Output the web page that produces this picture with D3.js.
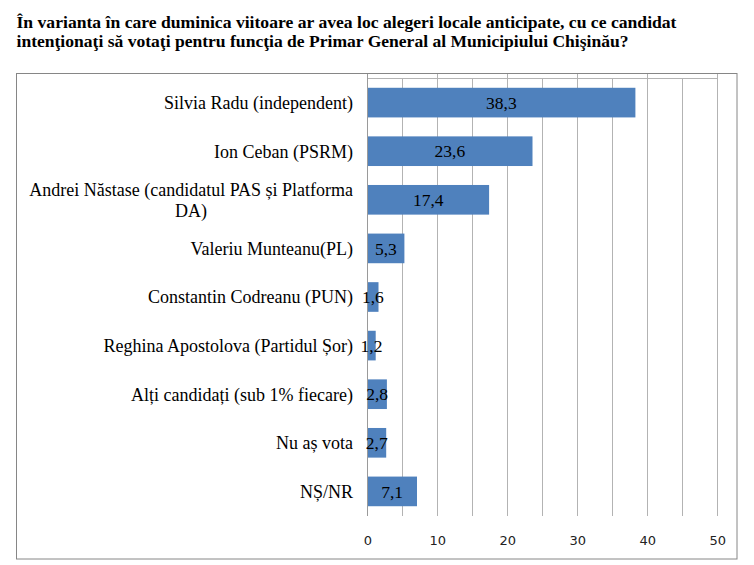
<!DOCTYPE html>
<html>
<head>
<meta charset="utf-8">
<script src="https://cdn.jsdelivr.net/npm/d3@7"></script>
<style>
  html, body { margin: 0; padding: 0; background: #fff; }
  svg { display: block; }
</style>
</head>
<body>
<svg id="chart" width="754" height="565"></svg>
<script>
// ---- data ----
const titleLines = [
  "În varianta în care duminica viitoare ar avea loc alegeri locale anticipate, cu ce candidat",
  "intenţionaţi să votaţi pentru funcţia de Primar General al Municipiului Chişinău?"
];
const categories = [
  "Silvia Radu (independent)",
  "Ion Ceban (PSRM)",
  "Andrei Năstase (candidatul PAS și Platforma DA)",
  "Valeriu Munteanu(PL)",
  "Constantin Codreanu (PUN)",
  "Reghina Apostolova (Partidul Șor)",
  "Alți candidați (sub 1% fiecare)",
  "Nu aș vota",
  "NȘ/NR"
];
const values = [38.3, 23.6, 17.4, 5.3, 1.6, 1.2, 2.8, 2.7, 7.1];
const xTicks = [0, 10, 20, 30, 40, 50];
const xGrid = [0, 5, 10, 15, 20, 25, 30, 35, 40, 45, 50];

// ---- layout ----
const svg = d3.select("#chart");
const plot = { left: 367.3, right: 717.3, top: 78.3, bottom: 515.7 };
const frame = { left: 16.5, top: 73.5, right: 737, bottom: 559 };
const barColor = "#4F81BD";
const SERIF = '"Liberation Serif"';
const SANS = '"DejaVu Sans"';

const locale = d3.formatLocale({ decimal: ",", thousands: ".", grouping: [3], currency: ["", ""] });
const fmt = locale.format(".1f");

const x = d3.scaleLinear().domain([0, 50]).range([plot.left, plot.right]);
const y = d3.scaleBand().domain(categories).range([plot.top, plot.bottom])
  .paddingInner(0.39).paddingOuter(0.195);

// title
const title = svg.append("g");
const titleWidths = [660, 612];
const titleBase = [28, 47];
titleLines.forEach((t, i) => {
  title.append("text")
    .attr("x", 16.5).attr("y", titleBase[i])
    .style("font-family", SERIF)
    .style("font-weight", "bold").style("font-size", "17px")
    .attr("textLength", titleWidths[i]).attr("lengthAdjust", "spacingAndGlyphs")
    .attr("fill", "#000")
    .text(t);
});

// outer frame
svg.append("rect")
  .attr("x", frame.left).attr("y", frame.top)
  .attr("width", frame.right - frame.left).attr("height", frame.bottom - frame.top)
  .attr("fill", "none").attr("stroke", "#868686").attr("stroke-width", 1);

// gridlines
const grid = svg.append("g")
  .attr("transform", `translate(0,${plot.bottom})`)
  .call(d3.axisTop(x).tickValues(xGrid).tickSize(plot.bottom - plot.top).tickFormat(""));
grid.select(".domain").remove();
grid.selectAll(".tick line").attr("stroke", "#b3b3b3").attr("shape-rendering", "crispEdges");

// major gridlines extend to frame top
const major = svg.append("g")
  .attr("transform", `translate(0,${plot.top})`)
  .call(d3.axisTop(x).tickValues(xTicks).tickSize(plot.top - frame.top).tickFormat(""));
major.select(".domain").remove();
major.selectAll(".tick line").attr("stroke", "#b3b3b3").attr("shape-rendering", "crispEdges");

// plot top line
svg.append("line")
  .attr("x1", x(0)).attr("x2", x(50)).attr("y1", plot.top).attr("y2", plot.top)
  .attr("stroke", "#b3b3b3").attr("shape-rendering", "crispEdges");

// bars
svg.append("g").selectAll("rect").data(categories).join("rect")
  .attr("x", x(0))
  .attr("y", d => y(d))
  .attr("width", (d, i) => x(values[i]) - x(0))
  .attr("height", y.bandwidth())
  .attr("fill", barColor);

// zero axis line
svg.append("line")
  .attr("x1", x(0)).attr("x2", x(0)).attr("y1", frame.top).attr("y2", plot.bottom)
  .attr("stroke", "#9a9a9a").attr("shape-rendering", "crispEdges");

// value labels
svg.append("g").selectAll("text").data(categories).join("text")
  .attr("x", (d, i) => (x(0) + x(values[i])) / 2)
  .attr("y", d => y(d) + y.bandwidth() / 2)
  .attr("dy", "0.35em")
  .attr("text-anchor", "middle")
  .style("font-family", SERIF)
  .style("font-size", "17.5px")
  .attr("fill", "#000")
  .text((d, i) => fmt(values[i]));

// category labels (wrapped)
const labelRight = 353;
const labelMax = 335;
const lineH = 21;
const labels = svg.append("g");
categories.forEach(cat => {
  const g = labels.append("g");
  const cy = y(cat) + y.bandwidth() / 2;
  const words = cat.split(" ");
  const probe = g.append("text").style("font-family", SERIF).style("font-size", "18px");
  const lines = [];
  let line = [];
  words.forEach(w => {
    line.push(w);
    probe.text(line.join(" "));
    if (probe.node().getComputedTextLength() > labelMax && line.length > 1) {
      line.pop();
      lines.push(line.join(" "));
      line = [w];
    }
  });
  lines.push(line.join(" "));
  probe.text(lines[0]);
  const w0 = probe.node().getComputedTextLength();
  probe.remove();
  const n = lines.length;
  lines.forEach((l, k) => {
    const t = g.append("text")
      .style("font-family", SERIF)
      .style("font-size", "18px").attr("fill", "#000")
      .attr("y", cy + (k - (n - 1) / 2) * lineH)
      .attr("dy", "0.35em")
      .text(l);
    if (n === 1) {
      t.attr("x", labelRight).attr("text-anchor", "end");
    } else {
      t.attr("x", labelRight - w0 / 2).attr("text-anchor", "middle");
    }
  });
});

// x axis tick labels
const xAxis = svg.append("g")
  .attr("transform", `translate(0,${plot.bottom})`)
  .call(d3.axisBottom(x).tickValues(xTicks).tickSize(0).tickPadding(0));
xAxis.select(".domain").remove();
xAxis.selectAll(".tick text")
  .attr("y", 29.6).attr("dy", 0)
  .style("font-family", SANS)
  .style("font-size", "13px").attr("fill", "#222");
</script>
</body>
</html>
